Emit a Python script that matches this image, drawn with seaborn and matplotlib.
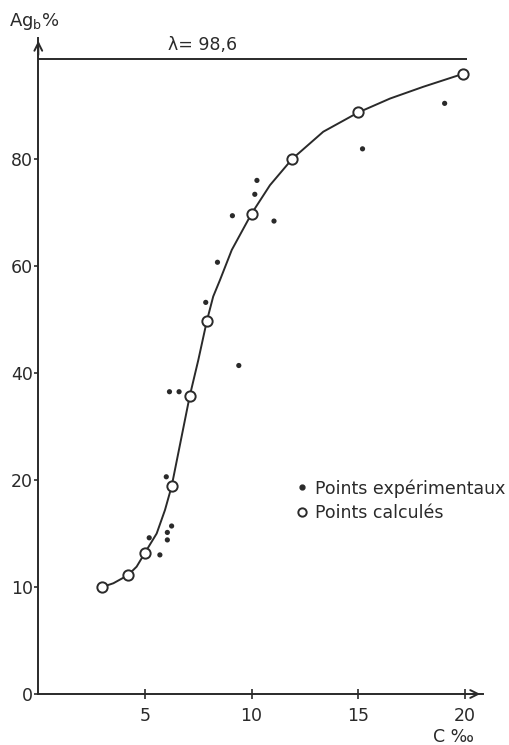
import numpy as np
import pandas as pd
import matplotlib
matplotlib.use("Agg")
import matplotlib.pyplot as plt
from matplotlib.lines import Line2D
import seaborn as sns

# ---- data ----
calc_x = [3.0, 4.2, 5.0, 6.25, 7.1, 7.9, 10.0, 11.9, 15.0, 19.9]
calc_y = [10.0, 11.1, 13.2, 19.4, 35.7, 49.7, 69.8, 80.0, 88.7, 95.9]

exp_x = [5.2, 5.7, 6.05, 6.05, 6.25, 6.0, 6.15, 6.6, 7.85, 8.4, 9.1, 9.4, 10.15, 10.25, 11.05, 15.2, 19.05]
exp_y = [14.6, 13.0, 14.4, 15.1, 15.7, 20.6, 36.5, 36.5, 53.2, 60.7, 69.4, 41.4, 73.4, 76.0, 68.4, 81.9, 90.4]

curve_x = [3.0, 3.52, 4.2, 4.61, 5.0, 5.55, 5.94, 6.25, 7.1, 7.5, 7.9, 8.2, 8.52, 9.07,
           10.0, 10.86, 11.9, 13.36, 15.0, 16.49, 18.05, 19.9]
curve_y = [10.0, 10.35, 11.1, 11.9, 13.2, 15.0, 17.2, 19.4, 35.7, 42.4, 49.7, 54.3, 57.4, 63.0,
           69.8, 75.1, 80.0, 85.1, 88.7, 91.3, 93.5, 95.9]

lam = 98.6
y_ticks = [0, 10, 20, 40, 60, 80]
x_ticks = [5, 10, 15, 20]

# nonlinear ordinate: equally spaced tick marks
scale_vals = [0, 10, 20, 40, 60, 80, 100, 120]
scale_pos = [0, 1, 2, 3, 4, 5, 6, 7]


def fwd(v):
    return np.interp(v, scale_vals, scale_pos)


def inv(p):
    return np.interp(p, scale_pos, scale_vals)


sns.set_style("white")
plt.rcParams["font.family"] = ["DejaVu Sans"]

ink = "#2a2a2a"
fig = plt.figure(figsize=(5.10, 7.45), dpi=100)
ax = fig.add_axes([38.3 / 510, 1 - 694 / 745, (483 - 38.3) / 510, (694 - 38) / 745])
ax.set_yscale("function", functions=(fwd, inv))

x_max = (483 - 38.3) / 21.33
p_top = (694 - 38) / 107.0
ax.set_xlim(0, x_max)
ax.set_ylim(0, inv(p_top))

curve = pd.DataFrame({"C": curve_x, "Ag": curve_y})
calc = pd.DataFrame({"C": calc_x, "Ag": calc_y})
exp = pd.DataFrame({"C": exp_x, "Ag": exp_y})

sns.lineplot(data=curve, x="C", y="Ag", ax=ax, color=ink, lw=1.4, sort=False, zorder=2)
sns.scatterplot(data=exp, x="C", y="Ag", ax=ax, color=ink, s=14, edgecolor="none", zorder=3)
sns.scatterplot(data=calc, x="C", y="Ag", ax=ax, facecolor="white", edgecolor=ink,
                linewidth=1.4, s=55, zorder=4)

ax.hlines(lam, 0, 20.1, color=ink, lw=1.4)
ax.annotate("λ= 98,6", xy=(6.1, lam), xycoords="data", xytext=(0, 4),
            textcoords="offset points", ha="left", va="bottom", fontsize=12.5, color=ink)

for s in ["top", "right"]:
    ax.spines[s].set_visible(False)
for s in ["left", "bottom"]:
    ax.spines[s].set_color(ink)
    ax.spines[s].set_linewidth(1.4)

# arrow heads
ax.annotate("", xy=(0, 1.0), xycoords="axes fraction", xytext=(0, 0.97),
            arrowprops=dict(arrowstyle="->", color=ink, lw=1.4, mutation_scale=14))
ax.annotate("", xy=(1.0, 0), xycoords="axes fraction", xytext=(0.97, 0),
            arrowprops=dict(arrowstyle="->", color=ink, lw=1.4, mutation_scale=14))

ax.set_yticks(y_ticks)
ax.set_yticklabels([str(t) for t in y_ticks])
ax.yaxis.set_minor_locator(matplotlib.ticker.NullLocator())
ax.set_xticks(x_ticks)
ax.set_xticklabels([str(t) for t in x_ticks])
ax.tick_params(axis="y", direction="out", length=3, width=1.2, color=ink, pad=1,
               labelsize=12.5, labelcolor=ink, left=True)
ax.tick_params(axis="x", direction="inout", length=7, width=1.2, color=ink, pad=6,
               labelsize=12.5, labelcolor=ink, bottom=True)
ax.set_xlabel("")
ax.set_ylabel("")

fig.text(9 / 510, 1 - 22 / 745, r"Ag$_\mathrm{b}$%", fontsize=13, color=ink, va="center", ha="left")
fig.text(433 / 510, 1 - 737 / 745, "C ‰", fontsize=12.5, color=ink, va="center", ha="left")

handles = [
    Line2D([], [], marker="o", ls="none", color=ink, markersize=3.5),
    Line2D([], [], marker="o", ls="none", markerfacecolor="white", markeredgecolor=ink,
           markeredgewidth=1.4, markersize=6),
]
leg = ax.legend(handles, ["Points expérimentaux", "Points calculés"], loc="upper left",
                bbox_to_anchor=(295 / 510, 1 - 479 / 745), bbox_transform=fig.transFigure,
                frameon=False, fontsize=12.5, handlelength=0.8, handletextpad=0.35,
                labelspacing=0.4, borderpad=0, borderaxespad=0)
for t in leg.get_texts():
    t.set_color(ink)

fig.savefig("out.png", dpi=100)
